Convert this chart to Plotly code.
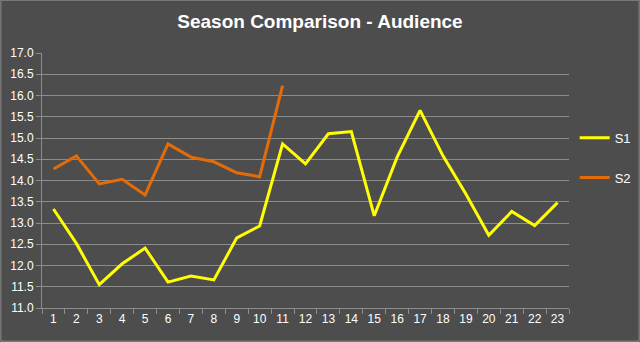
import plotly.graph_objects as go

episodes = [str(i) for i in range(1, 24)]
s1 = [13.33, 12.52, 11.55, 12.04, 12.41, 11.61, 11.75, 11.66, 12.65, 12.93,
      14.86, 14.39, 15.10, 15.15, 13.17, 14.55, 15.65, 14.58, 13.68, 12.71,
      13.27, 12.94, 13.48]
s2 = [14.27, 14.58, 13.92, 14.03, 13.66, 14.86, 14.55, 14.44, 14.18, 14.09, 16.23]

W, H = 640, 342
L, R, T, B = 41.7, 70.7, 53.3, 33.7
pw, ph = W - L - R, H - T - B

fig = go.Figure()
fig.add_trace(go.Scatter(x=episodes, y=s1, mode="lines", name="S1",
                         line=dict(color="#FFFF00", width=3), legendgroup="a"))
fig.add_trace(go.Scatter(x=episodes[:len(s2)], y=s2, mode="lines", name="S2",
                         line=dict(color="#E36C09", width=3), legendgroup="b"))

fig.update_layout(
    width=W, height=H,
    margin=dict(l=L, r=R, t=T, b=B, pad=0, autoexpand=False),
    paper_bgcolor="#4d4d4d", plot_bgcolor="#4d4d4d",
    font=dict(family="Liberation Sans, Arial, sans-serif", color="white", size=12),
    title=dict(text="<b>Season Comparison - Audience</b>", x=0.5, xanchor="center",
               y=1 - 21 / H, yanchor="middle",
               font=dict(size=19, color="white")),
    showlegend=True,
    legend=dict(x=(575 - L) / pw, xanchor="left", y=1 - (137 - 14 - T) / ph, yanchor="top",
                traceorder="grouped", tracegroupgap=20, bgcolor="rgba(0,0,0,0)",
                font=dict(size=13, color="white"), itemwidth=30),
    xaxis=dict(type="category", categoryorder="array", categoryarray=episodes,
               range=[-0.5, 22.5], showgrid=False, showline=True, linecolor="#8c8c8c",
               linewidth=1, ticks="outside", tickson="boundaries", ticklen=5,
               tickangle=0, automargin=False,
               tickcolor="#8c8c8c", tickfont=dict(size=12, color="white")),
    yaxis=dict(range=[11, 17], dtick=0.5, tickformat=".1f", showgrid=True,
               gridcolor="#8c8c8c", gridwidth=1, showline=True, linecolor="#8c8c8c",
               ticks="outside", ticklen=5, tickcolor="#8c8c8c", zeroline=False,
               automargin=False,
               tickfont=dict(size=12, color="white")),
    shapes=[dict(type="rect", xref="paper", yref="paper",
                 x0=(0.5 - L) / pw, x1=(W - 0.5 - L) / pw,
                 y0=(B - 0.5) / ph * -1, y1=1 + (T - 0.5) / ph,
                 line=dict(color="#8c8c8c", width=1), layer="above")],
)

fig.write_html("out.html")
